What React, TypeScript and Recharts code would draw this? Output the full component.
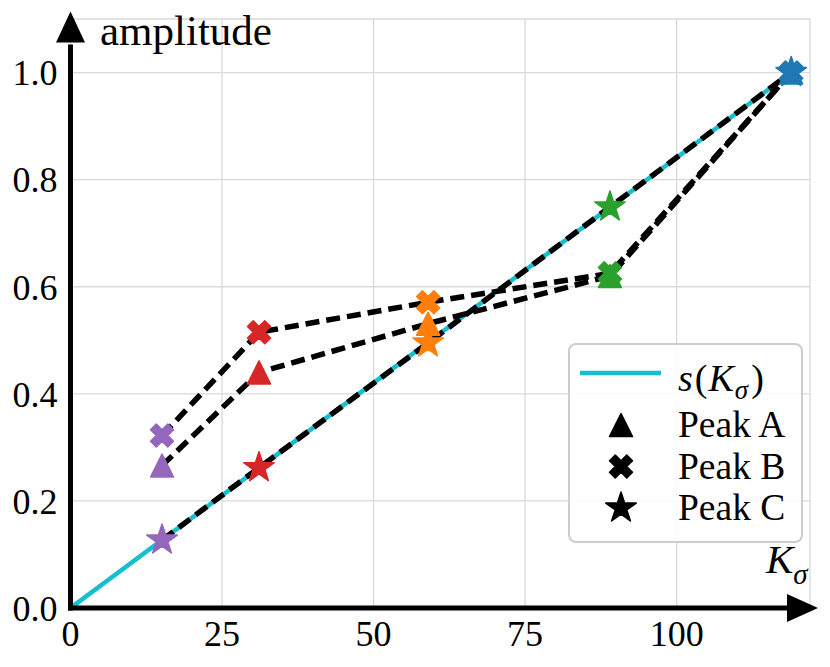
import React from 'react';
import { ComposedChart, Line, XAxis, YAxis, CartesianGrid, ReferenceLine } from 'recharts';

// ---- data ----
const kSigma = [15.1, 31.1, 59.0, 89.0, 118.9];
const peakA = [0.266, 0.44, 0.531, 0.62, 1.0];
const peakB = [0.322, 0.515, 0.571, 0.625, 1.0];
const peakC = [0.127, 0.262, 0.495, 0.749, 1.0];
const sLineK = [0, 118.9];
const sLineVal = [0, 1.0];
const pointColors = ['#9467bd', '#d62728', '#ff7f0e', '#2ca02c', '#1f77b4'];
const xTicks = [0, 25, 50, 75, 100];
const yTicks = [0, 0.2, 0.4, 0.6, 0.8, 1.0];
const legendLabels = ['Peak A', 'Peak B', 'Peak C'];

const SERIF = "'Liberation Serif', 'Times New Roman', serif";
const W = 814;
const H = 651;

// table built from the arrays above
const rows: any[] = [];
sLineK.forEach((k, i) => {
  if (!kSigma.includes(k)) rows.push({ k, s: sLineVal[i] });
});
kSigma.forEach((k, i) => {
  const r: any = { k, a: peakA[i], b: peakB[i], c: peakC[i] };
  const si = sLineK.indexOf(k);
  if (si >= 0) r.s = sLineVal[si];
  rows.push(r);
});
rows.sort((p, q) => p.k - q.k);

type Kind = 'tri' | 'x' | 'star';
const kinds: Kind[] = ['tri', 'x', 'star'];

function markerPath(kind: Kind, cx: number, cy: number): string {
  if (kind === 'tri') {
    const h = 11.5;
    return `M${cx},${cy - h}L${cx + h},${cy + h}L${cx - h},${cy + h}Z`;
  }
  if (kind === 'x') {
    const u = 5.75;
    const pts = [
      [-1, -2], [0, -1], [1, -2], [2, -1], [1, 0], [2, 1],
      [1, 2], [0, 1], [-1, 2], [-2, 1], [-1, 0], [-2, -1],
    ];
    return 'M' + pts.map(([px, py]) => `${cx + px * u},${cy + py * u}`).join('L') + 'Z';
  }
  const R = 16;
  const r = R * 0.381966;
  const pts: string[] = [];
  for (let i = 0; i < 10; i++) {
    const ang = (-90 + i * 36) * Math.PI / 180;
    const rad = i % 2 === 0 ? R : r;
    pts.push(`${cx + rad * Math.cos(ang)},${cy + rad * Math.sin(ang)}`);
  }
  return 'M' + pts.join('L') + 'Z';
}

const makeDot = (kind: Kind, key: string) => (props: any) => {
  const { cx, cy, payload, index } = props;
  if (cx == null || cy == null || payload == null || payload[key] == null) {
    return <g key={`${key}-e-${index}`} />;
  }
  const ci = kSigma.indexOf(payload.k);
  const col = pointColors[ci] ?? '#000';
  return (
    <path
      key={`${key}-${index}`}
      d={markerPath(kind, cx, cy)}
      fill={col}
      stroke={col}
      strokeWidth={1.5}
      strokeLinejoin="round"
    />
  );
};

const ArrowY = (props: any) => {
  const { x1, y1, x2, y2 } = props;
  const x = x1;
  const bottom = Math.max(y1, y2);
  const top = Math.min(y1, y2);
  const tip = top - 7.5;
  const base = tip + 31;
  return (
    <g>
      <line x1={x} y1={bottom + 2.5} x2={x} y2={base + 2} stroke="#000" strokeWidth={5} />
      <path d={`M${x},${tip}L${x + 14.5},${base}L${x - 14.5},${base}Z`} fill="#000" />
    </g>
  );
};

const ArrowX = (props: any) => {
  const { x1, y1, x2 } = props;
  const y = y1;
  const left = Math.min(x1, x2);
  const right = Math.max(x1, x2);
  const tip = right + 8;
  const base = tip - 31;
  return (
    <g>
      <line x1={left - 2.5} y1={y} x2={base + 2} y2={y} stroke="#000" strokeWidth={5} />
      <path d={`M${tip},${y}L${base},${y - 14}L${base},${y + 14}Z`} fill="#000" />
    </g>
  );
};

const Legend = () => (
  <div
    style={{
      position: 'absolute',
      left: 560,
      top: 335,
      width: 235,
      height: 200,
      boxSizing: 'border-box',
      border: '2px solid #cccccc',
      borderRadius: 8,
      background: 'rgba(255,255,255,0.85)',
    }}
  >
    <svg width={231} height={196} style={{ position: 'absolute', left: 0, top: 0 }}>
      <line x1={10} y1={28} x2={91} y2={28} stroke="#17becf" strokeWidth={4.5} />
      <text x={108} y={46} fontFamily={SERIF} fontSize={38} fill="#000">
        <tspan fontStyle="italic">s</tspan>
        <tspan dx={2}>(</tspan>
        <tspan fontStyle="italic" dx={1}>K</tspan>
        <tspan fontStyle="italic" fontSize={27} dy={8} dx={1}>σ</tspan>
        <tspan dy={-8} dx={3}>)</tspan>
      </text>
      {kinds.map((kind, i) => (
        <g key={kind}>
          <path d={markerPath(kind, 51, 80 + i * 41.5)} fill="#000" stroke="#000" strokeWidth={1.5} strokeLinejoin="round" />
          <text x={108} y={92 + i * 41.5} fontFamily={SERIF} fontSize={37.5} fill="#000">
            {legendLabels[i]}
          </text>
        </g>
      ))}
    </svg>
  </div>
);

export default function App() {
  return (
    <div style={{ position: 'relative', width: W, height: H }}>
      <ComposedChart
        width={W}
        height={H}
        data={rows}
        margin={{ top: 11, right: 12, bottom: 0, left: 0.5 }}
      >
        <CartesianGrid stroke="#d9d9d9" strokeWidth={1.3} />
        <XAxis
          type="number"
          dataKey="k"
          domain={[0, 122]}
          ticks={xTicks}
          allowDataOverflow
          axisLine={false}
          tickLine={false}
          tickSize={0}
          tickMargin={12}
          height={51}
          interval={0}
          tick={{ fontFamily: SERIF, fontSize: 36, fill: '#000' }}
        />
        <YAxis
          type="number"
          domain={[0, 1.1]}
          ticks={yTicks}
          allowDataOverflow
          axisLine={false}
          tickLine={false}
          tickSize={0}
          tickMargin={13}
          width={62}
          interval={0}
          tickFormatter={(v: number) => v.toFixed(1)}
          tick={{ fontFamily: SERIF, fontSize: 36, fill: '#000' }}
        />
        <Line dataKey="s" type="linear" stroke="#17becf" strokeWidth={4.5} dot={false} activeDot={false} connectNulls isAnimationActive={false} />
        <Line dataKey="a" type="linear" stroke="#000" strokeWidth={5.5} strokeDasharray="14 7" dot={false} activeDot={false} connectNulls isAnimationActive={false} />
        <Line dataKey="b" type="linear" stroke="#000" strokeWidth={5.5} strokeDasharray="14 7" dot={false} activeDot={false} connectNulls isAnimationActive={false} />
        <Line dataKey="c" type="linear" stroke="#000" strokeWidth={5.5} strokeDasharray="14 7" dot={false} activeDot={false} connectNulls isAnimationActive={false} />
        <Line dataKey="a" type="linear" stroke="none" dot={makeDot('tri', 'a')} activeDot={false} connectNulls isAnimationActive={false} />
        <Line dataKey="b" type="linear" stroke="none" dot={makeDot('x', 'b')} activeDot={false} connectNulls isAnimationActive={false} />
        <Line dataKey="c" type="linear" stroke="none" dot={makeDot('star', 'c')} activeDot={false} connectNulls isAnimationActive={false} />
        <ReferenceLine segment={[{ x: 0, y: 0 }, { x: 0, y: 1.1 }]} ifOverflow="visible" shape={ArrowY} />
        <ReferenceLine segment={[{ x: 0, y: 0 }, { x: 122, y: 0 }]} ifOverflow="visible" shape={ArrowX} />
      </ComposedChart>
      <svg width={W} height={H} style={{ position: 'absolute', left: 0, top: 0, pointerEvents: 'none' }}>
        <text x={92} y={37} fontFamily={SERIF} fontSize={43} fill="#000">amplitude</text>
        <text x={758} y={565} fontFamily={SERIF} fontSize={41} fill="#000">
          <tspan fontStyle="italic">K</tspan>
          <tspan fontStyle="italic" fontSize={29} dy={11}>σ</tspan>
        </text>
      </svg>
      <Legend />
    </div>
  );
}
